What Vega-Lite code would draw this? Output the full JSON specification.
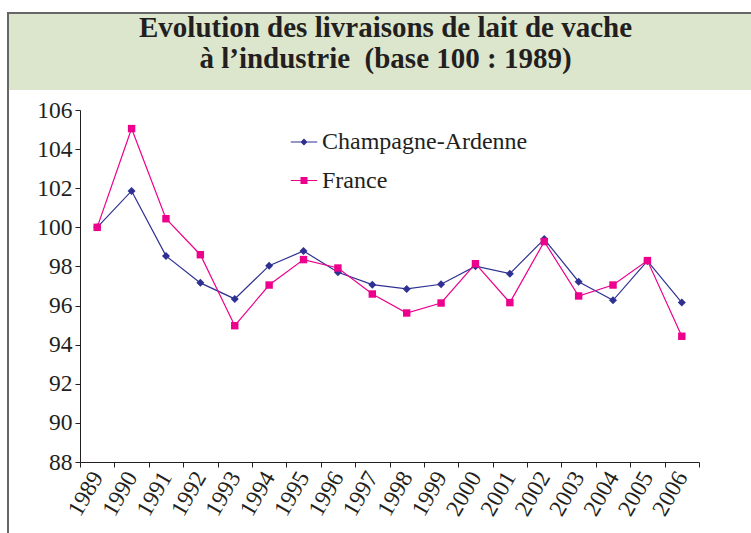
{
  "$schema": "https://vega.github.io/schema/vega-lite/v6.json",
  "background": "white",
  "padding": {"left": 7, "top": 12, "right": 0, "bottom": 0},
  "config": {"font": "Liberation Serif", "concat": {"spacing": 0}},
  "spacing": 0,
  "bounds": "flush",
  "datasets": {
    "livraisons": [
      {"annee": "1989", "zone": "Champagne-Ardenne", "valeur": 100.0},
      {"annee": "1990", "zone": "Champagne-Ardenne", "valeur": 101.86},
      {"annee": "1991", "zone": "Champagne-Ardenne", "valeur": 98.54},
      {"annee": "1992", "zone": "Champagne-Ardenne", "valeur": 97.16},
      {"annee": "1993", "zone": "Champagne-Ardenne", "valeur": 96.34},
      {"annee": "1994", "zone": "Champagne-Ardenne", "valeur": 98.04},
      {"annee": "1995", "zone": "Champagne-Ardenne", "valeur": 98.79},
      {"annee": "1996", "zone": "Champagne-Ardenne", "valeur": 97.70},
      {"annee": "1997", "zone": "Champagne-Ardenne", "valeur": 97.07},
      {"annee": "1998", "zone": "Champagne-Ardenne", "valeur": 96.85},
      {"annee": "1999", "zone": "Champagne-Ardenne", "valeur": 97.09},
      {"annee": "2000", "zone": "Champagne-Ardenne", "valeur": 98.01},
      {"annee": "2001", "zone": "Champagne-Ardenne", "valeur": 97.63},
      {"annee": "2002", "zone": "Champagne-Ardenne", "valeur": 99.40},
      {"annee": "2003", "zone": "Champagne-Ardenne", "valeur": 97.22},
      {"annee": "2004", "zone": "Champagne-Ardenne", "valeur": 96.27},
      {"annee": "2005", "zone": "Champagne-Ardenne", "valeur": 98.28},
      {"annee": "2006", "zone": "Champagne-Ardenne", "valeur": 96.15},
      {"annee": "1989", "zone": "France", "valeur": 100.0},
      {"annee": "1990", "zone": "France", "valeur": 105.05},
      {"annee": "1991", "zone": "France", "valeur": 100.44},
      {"annee": "1992", "zone": "France", "valeur": 98.60},
      {"annee": "1993", "zone": "France", "valeur": 94.97},
      {"annee": "1994", "zone": "France", "valeur": 97.05},
      {"annee": "1995", "zone": "France", "valeur": 98.35},
      {"annee": "1996", "zone": "France", "valeur": 97.92},
      {"annee": "1997", "zone": "France", "valeur": 96.59},
      {"annee": "1998", "zone": "France", "valeur": 95.62},
      {"annee": "1999", "zone": "France", "valeur": 96.13},
      {"annee": "2000", "zone": "France", "valeur": 98.14},
      {"annee": "2001", "zone": "France", "valeur": 96.15},
      {"annee": "2002", "zone": "France", "valeur": 99.27},
      {"annee": "2003", "zone": "France", "valeur": 96.49},
      {"annee": "2004", "zone": "France", "valeur": 97.05},
      {"annee": "2005", "zone": "France", "valeur": 98.30},
      {"annee": "2006", "zone": "France", "valeur": 94.43}
    ]
  },
  "vconcat": [
    {
      "width": 755,
      "height": 77,
      "view": {"fill": "#dce6cd", "stroke": "#666666", "strokeWidth": 2, "strokeDash": [832, 755]},
      "data": {"values": [{"t": ["Evolution des livraisons de lait de vache", "à l’industrie\u00a0 (base 100 : 1989)"]}]},
      "mark": {"type": "text", "fontSize": 29, "fontWeight": "bold", "font": "Liberation Serif", "lineHeight": 31, "baseline": "alphabetic", "dy": -15, "color": "#231f20"},
      "encoding": {"text": {"field": "t", "type": "nominal"}}
    },
    {
      "bounds": "flush",
      "spacing": 0,
      "hconcat": [
        {
          "width": 71.5,
          "height": 460,
          "view": {"fill": "white", "stroke": "#666666", "strokeWidth": 2, "strokeDash": [460, 603], "strokeDashOffset": 460},
          "data": {"values": [{"t": ""}]},
          "mark": {"type": "text"},
          "encoding": {"text": {"field": "t", "type": "nominal"}}
        },
        {
          "width": 619,
          "height": 460,
          "view": {"stroke": null},
          "data": {"name": "livraisons"},
          "encoding": {
            "x": {
              "field": "annee", "type": "ordinal",
              "scale": {"type": "band", "paddingInner": 0, "paddingOuter": 0},
              "axis": {"title": null, "orient": "bottom", "offset": -88, "tickBand": "extent", "labelAngle": -60, "labelAlign": "right", "labelBaseline": "middle", "labelFontSize": 23.5, "labelFont": "Liberation Serif", "labelColor": "#231f20", "labelPadding": 6, "tickSize": 5, "tickColor": "#231f20", "domainColor": "#231f20", "grid": false}
            },
            "y": {
              "field": "valeur", "type": "quantitative",
              "scale": {"domain": [88, 106], "range": [372, 20], "zero": false, "nice": false},
              "axis": {"title": null, "orient": "left", "values": [88, 90, 92, 94, 96, 98, 100, 102, 104, 106], "labelFontSize": 23.5, "labelFont": "Liberation Serif", "labelColor": "#231f20", "labelPadding": 3, "tickSize": 5, "tickColor": "#231f20", "domainColor": "#231f20", "grid": false}
            },
            "color": {
              "field": "zone", "type": "nominal",
              "scale": {"domain": ["Champagne-Ardenne", "France"], "range": ["#2e3192", "#ec008c"]},
              "legend": {
                "orient": "none", "legendX": 282, "legendY": 115, "title": null,
                "symbolType": "M-1,0H1M-0.22,-0.22H0.22V0.22H-0.22Z",
                "symbolSize": 700, "symbolStrokeWidth": 1.2,
                "labelFontSize": 24, "labelFont": "Liberation Serif", "labelColor": "#231f20", "labelOffset": 4, "labelLimit": 400,
                "rowPadding": 12.5, "padding": 0,
                "encode": {"symbols": {"update": {
                  "shape": {"signal": "datum.value === 'France' ? 'M-1,0H1M-0.22,-0.22H0.22V0.22H-0.22Z' : 'M-1,0H1M0,-0.2L0.2,0L0,0.2L-0.2,0Z'"},
                  "fill": {"scale": "color", "field": "value"},
                  "stroke": {"scale": "color", "field": "value"},
                  "strokeWidth": {"value": 1.2},
                  "opacity": {"value": 1}
                }}}
              }
            }
          },
          "layer": [
            {"mark": {"type": "line", "strokeWidth": 1.2}},
            {
              "transform": [{"filter": "datum.zone === 'Champagne-Ardenne'"}],
              "mark": {"type": "point", "filled": true, "opacity": 1, "size": 64, "shape": "diamond"}
            },
            {
              "transform": [{"filter": "datum.zone === 'France'"}],
              "mark": {"type": "point", "filled": true, "opacity": 1, "size": 55, "shape": "square"}
            }
          ]
        }
      ]
    }
  ]
}
